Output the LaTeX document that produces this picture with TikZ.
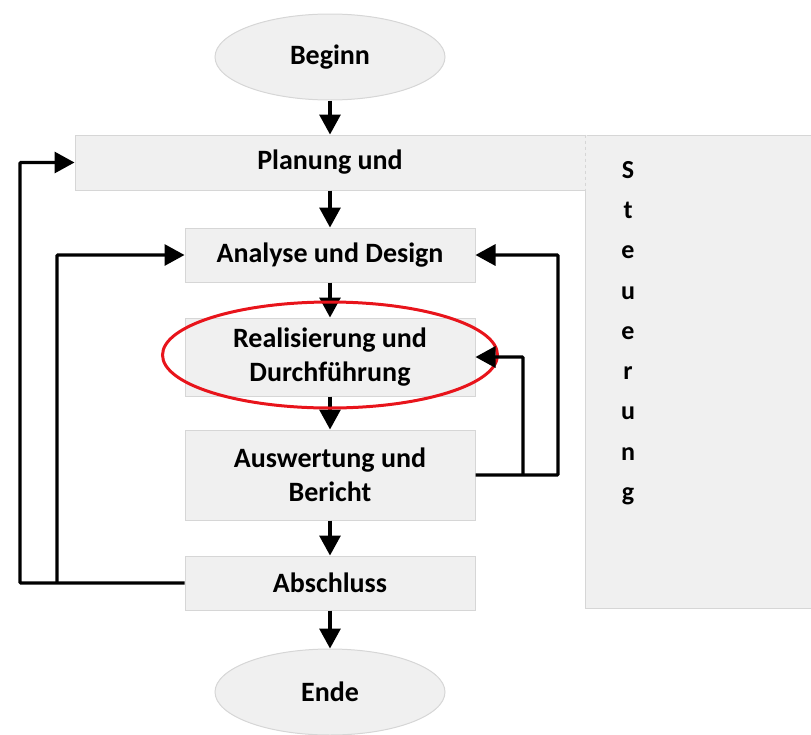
\documentclass[tikz,border=0pt]{standalone}
\usepackage{fontspec}
\setmainfont{Carlito}
\usetikzlibrary{arrows.meta,shapes.geometric}
\definecolor{boxfill}{HTML}{F0F0F0}
\definecolor{boxline}{HTML}{D6D6D6}
\definecolor{ringred}{HTML}{E8141B}
\begin{document}
\begin{tikzpicture}[x=1pt,y=-1pt,
  every node/.style={font=\fontsize{28}{34}\selectfont\bfseries, inner sep=0pt},
  stepbox/.style={rectangle, fill=boxfill, draw=boxline, line width=1pt, align=center, minimum width=290pt},
  term/.style={ellipse, fill=boxfill, draw=boxline, line width=1pt, minimum width=230pt, minimum height=86pt},
  arr/.style={line width=3.2pt, -{Triangle[length=20pt,width=21pt]}},
  loop/.style={line width=3.2pt, -{Triangle[length=20pt,width=21pt]}, rounded corners=1pt}
]
\useasboundingbox (0,0) rectangle (811,734);

% Steuerung panel
\node[rectangle, fill=boxfill, draw=boxline, line width=1pt, anchor=north west,
      minimum width=240pt, minimum height=473pt] (steu) at (585,135) {};
\node[align=center, font=\fontsize{26}{40.25}\selectfont\bfseries] (steutext) at (628,333)
  {S\\t\\e\\u\\e\\r\\u\\n\\g};

% main chain
\node[term] (beg) at (330,57) {Beginn};
\node[stepbox, minimum width=510pt, minimum height=55pt] (plan) at (330,162.5) {Planung und};
\draw[boxfill, line width=2pt] (plan.north east) -- (plan.south east);
\draw[boxline, line width=1pt, dashed] (plan.north east) -- (plan.south east);
\node[stepbox, minimum height=54pt] (ana) at (330,255) {Analyse und Design};
\node[stepbox, minimum height=78pt] (rea) at (330,357) {Realisierung und\\Durchführung};
\node[stepbox, minimum height=90pt] (aus) at (330,475) {Auswertung und\\Bericht};
\node[stepbox, minimum height=54pt] (abs) at (330,583) {Abschluss};
\node[term] (end) at (330,692) {Ende};

\draw[arr] (beg) -- (plan);
\draw[arr] (plan) -- (ana);
\draw[arr] (ana) -- (rea);
\draw[arr] (rea) -- (aus);
\draw[arr] (aus) -- (abs);
\draw[arr] (abs) -- (end);

% highlight ring
\node[ellipse, draw=ringred, line width=3pt, minimum width=335pt, minimum height=106pt] (ring) at (330,355) {};

% feedback loops
\coordinate (oL) at (20,0);
\coordinate (iL) at (57,0);
\coordinate (iR) at (523,0);
\coordinate (oR) at (558,0);
\draw[loop] (abs.west) -- (abs.west -| oL) |- (plan.west);
\draw[loop] (abs.west -| iL) |- (ana.west);
\draw[loop] (aus.east) -- (aus.east -| oR) |- (ana.east);
\draw[loop] (aus.east -| iR) |- (rea.east);
\end{tikzpicture}
\end{document}
